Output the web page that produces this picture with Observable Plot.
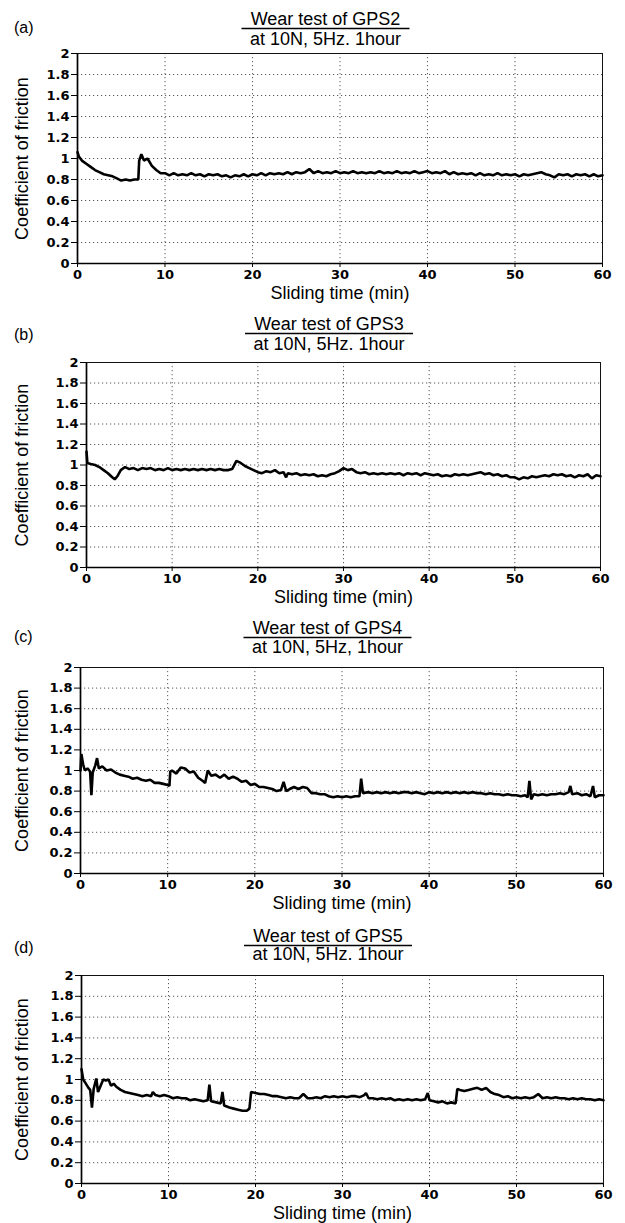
<!DOCTYPE html>
<html>
<head>
<meta charset="utf-8">
<script src="https://cdn.jsdelivr.net/npm/d3@7"></script>
<script src="https://cdn.jsdelivr.net/npm/@observablehq/plot@0.6"></script>
<style>
  html, body { margin: 0; padding: 0; background: #fff; }
  #root { position: relative; width: 625px; height: 1223px; overflow: hidden; background: #fff; }
  .panel { position: absolute; left: 0; width: 625px; }
  .panel svg { display: block; }
</style>
</head>
<body>
<div id="root"></div>
<script>
// ---------- data ----------
const tags = ["(a)", "(b)", "(c)", "(d)"];
const titles = ["Wear test of GPS2", "Wear test of GPS3", "Wear test of GPS4", "Wear test of GPS5"];
const subtitles = ["at 10N, 5Hz. 1hour", "at 10N, 5Hz. 1hour", "at 10N, 5Hz, 1hour", "at 10N, 5Hz. 1hour"];
const xLabel = "Sliding time (min)";
const yLabel = "Coefficient of friction";
const xTicks = [0, 10, 20, 30, 40, 50, 60];
const yTicks = [0, 0.2, 0.4, 0.6, 0.8, 1, 1.2, 1.4, 1.6, 1.8, 2];

// [sliding time (min), coefficient of friction]
const seriesGPS2 = [
  [0,1.06],[0.15,1.02],[0.5,0.98],[1,0.95],[1.5,0.92],[2,0.89],[2.5,0.87],[3,0.85],[3.5,0.84],[4,0.83],
  [4.5,0.81],[5,0.79],[5.5,0.80],[6,0.79],[6.5,0.80],[6.95,0.80],[7.05,0.98],[7.3,1.04],[7.6,0.98],[8,1.00],
  [8.5,0.93],[9,0.89],[9.5,0.86],[10,0.86],[10.5,0.84],[11,0.86],[11.5,0.84],[12,0.85],[12.5,0.84],[13,0.86],
  [13.5,0.84],[14,0.85],[14.5,0.83],[15,0.85],[15.5,0.84],[16,0.85],[16.5,0.83],[17,0.84],[17.5,0.82],[18,0.84],
  [18.5,0.83],[19,0.85],[19.5,0.83],[20,0.85],[20.5,0.84],[21,0.86],[21.5,0.84],[22,0.86],[22.5,0.85],[23,0.86],
  [23.5,0.85],[24,0.87],[24.5,0.85],[25,0.87],[25.5,0.86],[26,0.87],[26.5,0.90],[27,0.86],[27.5,0.88],[28,0.86],
  [28.5,0.87],[29,0.86],[29.5,0.88],[30,0.86],[30.5,0.87],[31,0.86],[31.5,0.88],[32,0.86],[32.5,0.87],[33,0.86],
  [33.5,0.87],[34,0.86],[34.5,0.88],[35,0.86],[35.5,0.87],[36,0.86],[36.5,0.88],[37,0.86],[37.5,0.87],[38,0.86],
  [38.5,0.88],[39,0.86],[39.5,0.87],[40,0.88],[40.5,0.86],[41,0.87],[41.5,0.86],[42,0.88],[42.5,0.85],[43,0.87],
  [43.5,0.85],[44,0.86],[44.5,0.85],[45,0.86],[45.5,0.84],[46,0.86],[46.5,0.84],[47,0.85],[47.5,0.84],[48,0.86],
  [48.5,0.84],[49,0.85],[49.5,0.84],[50,0.85],[50.5,0.83],[51,0.85],[51.5,0.84],[52,0.85],[52.5,0.86],[53,0.87],
  [53.5,0.85],[54,0.84],[54.5,0.82],[55,0.85],[55.5,0.84],[56,0.85],[56.5,0.83],[57,0.85],[57.5,0.84],[58,0.85],
  [58.5,0.83],[59,0.85],[59.5,0.83],[60,0.84]
];
const seriesGPS3 = [
  [0,1.13],[0.1,1.02],[0.5,1.01],[1,1.00],[1.5,0.98],[2,0.95],[2.5,0.92],[3,0.88],[3.3,0.86],[3.6,0.89],
  [4,0.95],[4.5,0.98],[5,0.96],[5.5,0.97],[6,0.95],[6.5,0.97],[7,0.96],[7.5,0.97],[8,0.95],[8.5,0.96],
  [9,0.95],[9.5,0.97],[10,0.95],[10.5,0.96],[11,0.95],[11.5,0.96],[12,0.95],[12.5,0.96],[13,0.95],[13.5,0.96],
  [14,0.95],[14.5,0.96],[15,0.95],[15.5,0.96],[16,0.95],[16.5,0.95],[17,0.96],[17.5,1.04],[18,1.02],[18.5,0.99],
  [19,0.97],[19.5,0.95],[20,0.93],[20.5,0.92],[21,0.94],[21.5,0.93],[22,0.95],[22.5,0.92],[23,0.93],[23.3,0.88],
  [23.5,0.92],[24,0.91],[24.5,0.92],[25,0.90],[25.5,0.91],[26,0.90],[26.5,0.91],[27,0.89],[27.5,0.90],[28,0.89],
  [28.5,0.91],[29,0.92],[29.5,0.94],[30,0.97],[30.5,0.95],[31,0.96],[31.5,0.93],[32,0.92],[32.5,0.93],[33,0.91],
  [33.5,0.92],[34,0.91],[34.5,0.92],[35,0.91],[35.5,0.92],[36,0.91],[36.5,0.92],[37,0.90],[37.5,0.92],[38,0.91],
  [38.5,0.92],[39,0.90],[39.5,0.92],[40,0.91],[40.5,0.90],[41,0.91],[41.5,0.89],[42,0.90],[42.5,0.89],[43,0.91],
  [43.5,0.90],[44,0.91],[44.5,0.90],[45,0.91],[45.5,0.92],[46,0.93],[46.5,0.91],[47,0.92],[47.5,0.90],[48,0.91],
  [48.5,0.89],[49,0.90],[49.5,0.88],[50,0.88],[50.5,0.86],[51,0.88],[51.5,0.87],[52,0.89],[52.5,0.88],[53,0.89],
  [53.5,0.90],[54,0.89],[54.5,0.91],[55,0.90],[55.5,0.91],[56,0.89],[56.5,0.90],[57,0.88],[57.5,0.90],[58,0.89],
  [58.5,0.91],[59,0.87],[59.5,0.90],[60,0.89]
];
const seriesGPS4 = [
  [0,1.00],[0.1,1.16],[0.3,1.06],[0.5,1.00],[0.8,1.02],[1.1,0.99],[1.25,0.76],[1.4,0.98],[1.7,1.05],[1.9,1.12],
  [2.1,1.02],[2.5,1.04],[3,1.00],[3.5,1.01],[4,0.98],[4.5,0.96],[5,0.95],[5.5,0.94],[6,0.92],[6.5,0.93],
  [7,0.91],[7.5,0.90],[8,0.91],[8.5,0.88],[9,0.88],[9.5,0.87],[10,0.86],[10.2,0.85],[10.3,0.99],[10.5,1.00],
  [11,0.97],[11.5,1.03],[12,1.02],[12.5,0.98],[13,0.99],[13.5,0.93],[14,0.90],[14.3,0.88],[14.6,1.00],[15,0.95],
  [15.5,0.96],[16,0.93],[16.5,0.96],[17,0.92],[17.5,0.94],[18,0.92],[18.5,0.89],[19,0.90],[19.5,0.86],[20,0.87],
  [20.5,0.84],[21,0.84],[21.5,0.83],[22,0.82],[22.5,0.80],[23,0.81],[23.3,0.89],[23.6,0.80],[24,0.82],[24.5,0.84],
  [25,0.82],[25.5,0.84],[26,0.83],[26.5,0.78],[27,0.78],[27.5,0.77],[28,0.77],[28.5,0.75],[29,0.74],[29.5,0.75],
  [30,0.74],[30.5,0.75],[31,0.74],[31.5,0.75],[32,0.75],[32.2,0.92],[32.4,0.78],[33,0.79],[33.5,0.78],[34,0.79],
  [34.5,0.78],[35,0.79],[35.5,0.78],[36,0.79],[36.5,0.78],[37,0.79],[37.5,0.79],[38,0.78],[38.5,0.79],[39,0.78],
  [39.5,0.77],[40,0.79],[40.5,0.78],[41,0.79],[41.5,0.78],[42,0.79],[42.5,0.78],[43,0.79],[43.5,0.78],[44,0.79],
  [44.5,0.78],[45,0.79],[45.5,0.78],[46,0.78],[46.5,0.77],[47,0.78],[47.5,0.77],[48,0.77],[48.5,0.76],[49,0.77],
  [49.5,0.76],[50,0.76],[50.5,0.75],[51,0.76],[51.3,0.74],[51.5,0.90],[51.7,0.72],[52,0.77],[52.5,0.76],[53,0.77],
  [53.5,0.76],[54,0.77],[54.5,0.77],[55,0.78],[55.5,0.77],[56,0.79],[56.2,0.85],[56.4,0.77],[57,0.78],[57.5,0.76],
  [58,0.77],[58.5,0.75],[58.8,0.85],[59,0.74],[59.5,0.76],[60,0.76]
];
const seriesGPS5 = [
  [0,1.10],[0.2,1.00],[0.5,0.96],[0.8,0.92],[1,0.90],[1.2,0.73],[1.4,0.91],[1.7,1.01],[1.9,0.88],[2.2,0.94],
  [2.5,1.00],[2.8,0.99],[3.1,1.00],[3.4,0.94],[3.7,0.96],[4,0.93],[4.5,0.90],[5,0.88],[5.5,0.87],[6,0.86],
  [6.5,0.85],[7,0.84],[7.5,0.85],[8,0.84],[8.2,0.88],[8.5,0.85],[9,0.84],[9.5,0.85],[10,0.84],[10.5,0.82],
  [11,0.83],[11.5,0.82],[12,0.82],[12.5,0.80],[13,0.81],[13.5,0.80],[14,0.79],[14.5,0.80],[14.7,0.95],[14.9,0.79],
  [15.5,0.78],[16,0.77],[16.2,0.88],[16.4,0.75],[17,0.73],[17.5,0.72],[18,0.71],[18.5,0.70],[19,0.70],[19.3,0.72],
  [19.5,0.88],[20,0.87],[20.5,0.86],[21,0.86],[21.5,0.85],[22,0.84],[22.5,0.84],[23,0.83],[23.5,0.82],[24,0.83],
  [24.5,0.82],[25,0.82],[25.5,0.86],[26,0.82],[26.5,0.82],[27,0.83],[27.5,0.82],[28,0.84],[28.5,0.83],[29,0.84],
  [29.5,0.83],[30,0.84],[30.5,0.83],[31,0.84],[31.5,0.84],[32,0.83],[32.5,0.85],[32.7,0.87],[33,0.82],[33.5,0.82],
  [34,0.81],[34.5,0.82],[35,0.81],[35.5,0.82],[36,0.80],[36.5,0.81],[37,0.80],[37.5,0.81],[38,0.80],[38.5,0.81],
  [39,0.80],[39.5,0.81],[39.8,0.87],[40,0.80],[40.5,0.79],[41,0.78],[41.5,0.79],[42,0.77],[42.5,0.78],[43,0.77],
  [43.2,0.91],[43.5,0.90],[44,0.89],[44.5,0.90],[45,0.91],[45.5,0.92],[46,0.90],[46.5,0.92],[47,0.88],[47.5,0.86],
  [48,0.85],[48.5,0.83],[49,0.84],[49.5,0.82],[50,0.83],[50.5,0.82],[51,0.83],[51.5,0.82],[52,0.83],[52.5,0.86],
  [53,0.82],[53.5,0.83],[54,0.82],[54.5,0.83],[55,0.82],[55.5,0.82],[56,0.81],[56.5,0.82],[57,0.81],[57.5,0.82],
  [58,0.81],[58.5,0.81],[59,0.80],[59.5,0.81],[60,0.80]
];
const allSeries = [seriesGPS2, seriesGPS3, seriesGPS4, seriesGPS5];

// ---------- layout (per panel) ----------
const layout = [
  {frameTop: 53,  frameH: 210, left: 77, right: 602, titleY: 25, subY: 45, tagY: 33},
  {frameTop: 362, frameH: 205, left: 86, right: 600, titleY: 21, subY: 41, tagY: 31},
  {frameTop: 667, frameH: 206, left: 80, right: 603, titleY: 20, subY: 39, tagY: 28},
  {frameTop: 975, frameH: 208, left: 81, right: 603, titleY: 20, subY: 38, tagY: 31}
];
const HEADER = 50, MT = 3, MB = 44;
const sans = "'Liberation Sans', Arial, sans-serif";

const root = document.getElementById("root");

allSeries.forEach((series, i) => {
  const L = layout[i];
  const div = document.createElement("div");
  div.className = "panel";
  div.style.top = (L.frameTop - HEADER - MT) + "px";
  root.appendChild(div);

  // header: panel tag + two-line title separated by a rule
  const head = d3.select(div).append("svg")
    .attr("width", 625).attr("height", HEADER)
    .style("font-family", sans);
  head.append("text").attr("x", 14).attr("y", L.tagY)
    .attr("font-size", 16).attr("fill", "#000").text(tags[i]);
  const cx = (L.left + L.right) / 2 - 14;
  head.append("text").attr("x", cx).attr("y", L.titleY).attr("text-anchor", "middle")
    .attr("font-size", 18).attr("fill", "#000").text(titles[i]);
  head.append("text").attr("x", cx).attr("y", L.subY).attr("text-anchor", "middle")
    .attr("font-size", 18).attr("fill", "#000").text(subtitles[i]);
  head.append("line").attr("x1", cx - 84).attr("x2", cx + 84)
    .attr("y1", L.titleY + 3.5).attr("y2", L.titleY + 3.5)
    .attr("stroke", "#000").attr("stroke-width", 1.3);

  const rows = series.map(([t, f]) => ({t, f}));
  const dotted = {stroke: "#222", strokeOpacity: 0.75, strokeWidth: 1, strokeDasharray: "1.2,2.8"};
  const chart = Plot.plot({
    width: 625,
    height: MT + L.frameH + MB,
    marginTop: MT,
    marginBottom: MB,
    marginLeft: L.left,
    marginRight: 625 - L.right,
    x: {domain: [0, 60]},
    y: {domain: [0, 2]},
    style: {background: "transparent", color: "#000", fontFamily: "'DejaVu Sans', sans-serif", fontSize: "13px", overflow: "visible"},
    marks: [
      Plot.gridY(yTicks.filter(v => v > 0 && v < 2), dotted),
      Plot.gridX(xTicks.filter(v => v > 0 && v < 60), dotted),
      Plot.frame({stroke: "#111", strokeWidth: 1}),
      Plot.ruleX([0], {stroke: "#000", strokeWidth: 1.7}),
      Plot.ruleY([0], {stroke: "#000", strokeWidth: 1.7}),
      Plot.axisY(yTicks, {tickSize: 6, tickPadding: 2, fontWeight: "bold", label: null, tickFormat: d => String(d)}),
      Plot.axisX(xTicks, {tickSize: 4, tickPadding: 2, fontWeight: "bold", label: null, tickFormat: d => String(d)}),
      Plot.text([yLabel], {frameAnchor: "left", dx: -(L.left - 22), rotate: -90, textAnchor: "middle", lineAnchor: "middle", fontSize: 18, fontFamily: sans, fill: "#000"}),
      Plot.text([xLabel], {frameAnchor: "bottom", dy: 30, textAnchor: "middle", lineAnchor: "middle", fontSize: 18, fontFamily: sans, fill: "#000"}),
      Plot.line(rows, {x: "t", y: "f", stroke: "#000", strokeWidth: 2.6, strokeLinejoin: "miter"})
    ]
  });
  div.appendChild(chart);
});
</script>
</body>
</html>
